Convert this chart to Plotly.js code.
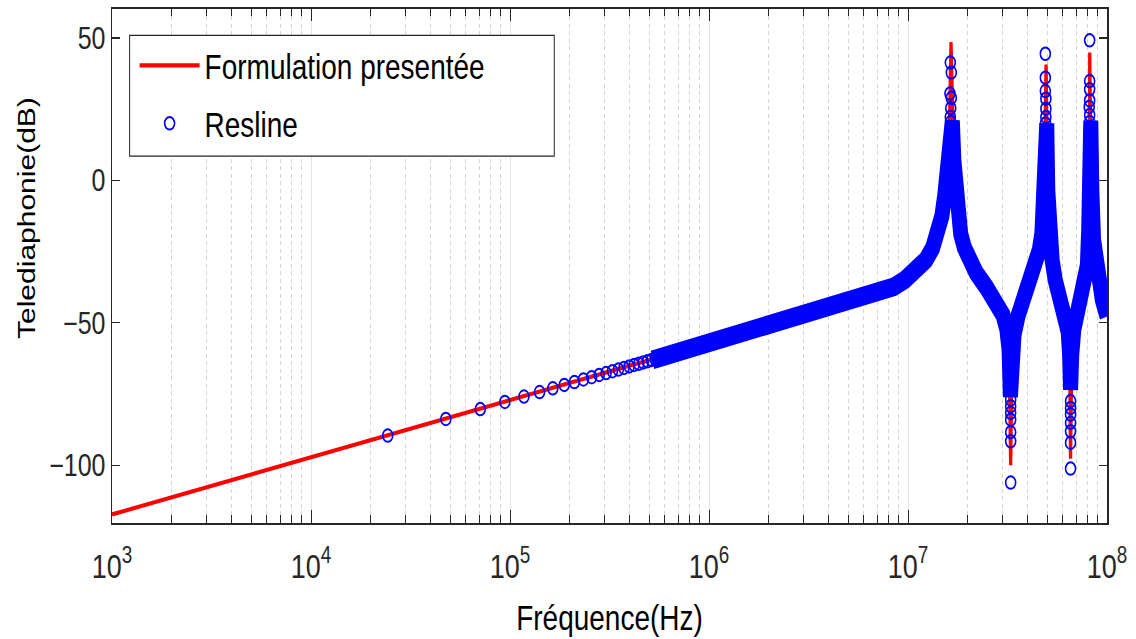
<!DOCTYPE html>
<html>
<head>
<meta charset="utf-8">
<script src="https://cdn.plot.ly/plotly-3.0.1.min.js"></script>
<style>
html,body{margin:0;padding:0;background:#fff;overflow:hidden;}
#wrap{width:1136px;height:639px;overflow:hidden;}
#chart{width:1136px;height:511px;transform:scaleY(1.2505);transform-origin:0 0;}
</style>
</head>
<body>
<div id="wrap"><div id="chart"></div></div>
<script>
// ---- Formulation presentée (red curve) ----
const redF = [1e3, 1e4, 1e5, 3e5, 6e5, 1e6, 1.5e6, 2e6, 3e6, 4e6, 5e6, 6e6, 7.26e6, 8.47e6, 9.65e6, 1.09e7, 1.23e7, 1.33e7, 1.41e7, 1.48e7, 1.53e7, 1.57e7, 1.61e7, 1.645e7, 1.70e7, 1.74e7, 1.79e7, 1.88e7, 2.01e7, 2.20e7, 2.47e7, 2.77e7, 3.00e7, 3.14e7, 3.22e7, 3.28e7, 3.33e7, 3.41e7, 3.57e7, 3.83e7, 4.11e7, 4.36e7, 4.57e7, 4.71e7, 4.79e7, 4.85e7, 4.94e7, 5.04e7, 5.12e7, 5.30e7, 5.49e7, 5.81e7, 6.16e7, 6.38e7, 6.49e7, 6.56e7, 6.65e7, 6.81e7, 7.09e7, 7.43e7, 7.74e7, 7.97e7, 8.09e7, 8.15e7, 8.19e7, 8.29e7, 8.39e7, 8.56e7, 8.76e7, 9.11e7, 9.48e7, 9.84e7, 1e8];
const redDb = [-117.3, -97.3, -77.3, -67.7, -61.7, -57.3, -53.8, -51.2, -47.6, -45.0, -43.0, -41.8, -39.8, -37.4, -34.9, -32.1, -27.9, -23.7, -19.2, -13.2, -5.2, 3.6, 14.1, 48.6, 7.1, -5.2, -13.9, -20.9, -27.2, -32.4, -37.4, -41.9, -47.2, -52.4, -59.4, -100.0, -63.0, -54.2, -47.6, -41.9, -36.0, -30.7, -24.4, -18.4, -10.4, 0.1, 40.7, -3.4, -15.6, -27.9, -34.9, -41.2, -47.2, -53.1, -61.2, -97.7, -61.2, -52.4, -47.2, -41.2, -36.0, -29.7, -17.4, 0.1, 44.9, 8.0, -3.4, -20.9, -29.0, -36.5, -42.0, -46.0, -47.8];

// ---- Resline: individually visible circles ----
const resF = [1e3, 24300, 47600, 70900, 94200, 117500, 140800, 164100, 187400, 210700, 234000, 257300, 280600, 303900, 327200, 350500, 373800, 397100, 420400, 443700, 467000, 490300, 513600, 536900, 560200,
  1.632e7, 1.651e7, 1.625e7, 1.651e7, 1.640e7, 1.632e7, 1.640e7,
  4.90e7, 4.90e7, 4.90e7, 4.93e7, 4.93e7, 4.93e7, 4.91e7,
  8.18e7, 8.18e7, 8.18e7, 8.18e7, 8.14e7, 8.18e7, 8.18e7,
  3.28e7, 3.28e7, 3.28e7, 3.28e7, 3.28e7, 3.28e7, 3.28e7,
  6.56e7, 6.56e7, 6.56e7, 6.56e7, 6.56e7, 6.56e7, 6.56e7];
const resDb = [-117.3, -89.6, -83.75, -80.3, -77.8, -75.9, -74.3, -73.0, -71.8, -70.8, -69.9, -69.1, -68.3, -67.65, -67.0, -66.4, -65.85, -65.3, -64.8, -64.4, -63.9, -63.5, -63.1, -62.7, -62.3,
  41.4, 37.9, 30.5, 29.0, 25.4, 22.3, 20.5,
  44.5, 36.1, 31.4, 28.7, 25.2, 22.3, 20.0,
  49.2, 34.9, 32.0, 28.1, 25.8, 23.0, 20.5,
  -106.1, -91.6, -88.4, -84.0, -81.6, -79.3, -77.0,
  -101.2, -92.1, -88.1, -85.1, -82.2, -79.9, -77.5];

// ---- Resline: dense part (circles overlap into a solid band) ----
const bandF = [5.2e5, 6e5, 8e5, 1e6, 1.5e6, 2e6, 3e6, 4e6, 5e6, 6e6, 7.26e6, 8.47e6, 9.65e6, 1.09e7, 1.23e7, 1.33e7, 1.38e7, 1.43e7, 1.48e7, 1.53e7, 1.57e7, 1.61e7, 1.63e7, 1.67e7, 1.70e7, 1.74e7, 1.79e7, 1.84e7, 1.92e7, 2.01e7, 2.20e7, 2.47e7, 2.77e7, 3.00e7, 3.14e7, 3.22e7, 3.27e7, 3.33e7, 3.41e7, 3.57e7, 3.83e7, 4.11e7, 4.36e7, 4.57e7, 4.71e7, 4.79e7, 4.85e7, 4.90e7, 4.98e7, 5.04e7, 5.12e7, 5.30e7, 5.49e7, 5.81e7, 6.16e7, 6.38e7, 6.49e7, 6.56e7, 6.65e7, 6.81e7, 7.09e7, 7.43e7, 7.74e7, 7.97e7, 8.09e7, 8.15e7, 8.18e7, 8.29e7, 8.39e7, 8.56e7, 8.76e7, 9.11e7, 9.48e7, 9.84e7, 1e8];
const bandDb = [-63.0, -61.7, -59.2, -57.3, -53.8, -51.2, -47.6, -45.0, -43.0, -41.8, -39.8, -37.4, -34.9, -32.1, -27.9, -23.7, -20.8, -17.0, -12.5, -5.2, 3.6, 14.1, 21.0, 21.0, 7.1, -5.2, -13.9, -18.8, -23.6, -27.2, -32.4, -37.4, -41.9, -47.2, -52.4, -59.4, -76.0, -63.0, -54.2, -47.6, -41.9, -36.0, -30.7, -24.4, -18.4, -10.4, 0.1, 20.0, 20.0, -3.4, -15.6, -27.9, -34.9, -41.2, -47.2, -53.1, -61.2, -73.5, -61.2, -52.4, -47.2, -41.2, -36.0, -29.7, -17.4, 0.1, 21.0, 21.0, -3.4, -20.9, -29.0, -36.5, -42.0, -46.0, -47.8];

// ---- axis ticks ----
const xTickVals = [1e3, 1e4, 1e5, 1e6, 1e7, 1e8];
const xTickText = ['10<sup>3</sup>', '10<sup>4</sup>', '10<sup>5</sup>', '10<sup>6</sup>', '10<sup>7</sup>', '10<sup>8</sup>'];
const yTickVals = [-100, -50, 0, 50];
const yTickText = ['\u2212100', '\u221250', '0', '50'];

const SANS = 'Liberation Sans, Arial, sans-serif';
const AX = '#262626';

const traces = [
  {x: redF, y: redDb, type: 'scatter', mode: 'lines', name: 'Formulation presentée',
   line: {color: '#ff0000', width: 3.3}, legendgroup: 'a'},
  {x: bandF, y: bandDb, type: 'scatter', mode: 'lines', name: 'Resline', showlegend: false,
   line: {color: '#0000ff', width: 15}, legendgroup: 'b', cliponaxis: false},
  {x: resF, y: resDb, type: 'scatter', mode: 'markers', name: 'Resline', legendgroup: 'b',
   marker: {symbol: 'circle-open', size: 10, color: '#0000ff', line: {width: 1.6, color: '#0000ff'}}, cliponaxis: false}
];

const layout = {
  width: 1136, height: 511,
  margin: {l: 112, r: 29, t: 7, b: 93},
  paper_bgcolor: '#ffffff', plot_bgcolor: '#ffffff',
  showlegend: true,
  legend: {x: 0.0227, y: 0.950, xanchor: 'left', yanchor: 'top', bgcolor: 'rgba(0,0,0,0)',
    borderwidth: 0, font: {family: SANS, size: 28, color: '#000'}, traceorder: 'grouped',
    tracegroupgap: 7, itemwidth: 60},
  xaxis: {type: 'log', range: [3, 8], tickvals: xTickVals, ticktext: xTickText,
    ticks: 'inside', ticklen: 10, tickwidth: 1, tickcolor: AX,
    showline: true, linecolor: AX, linewidth: 1.5, mirror: 'ticks',
    showgrid: true, gridcolor: '#e3e3e3', gridwidth: 1, zeroline: false,
    tickfont: {family: SANS, size: 27, color: AX}, ticklabelstandoff: 10,
    minor: {ticks: 'inside', ticklen: 6, tickcolor: AX, showgrid: true, gridcolor: '#d4d4d4', griddash: 'dot', dtick: 'D1'},
    title: {text: 'Fréquence(Hz)', font: {family: SANS, size: 28, color: '#000'}, standoff: 17}},
  yaxis: {range: [-120.2, 60.3], tickvals: yTickVals, ticktext: yTickText,
    ticks: 'inside', ticklen: 8, tickwidth: 1, tickcolor: AX,
    showline: true, linecolor: AX, linewidth: 1.5, mirror: 'ticks',
    showgrid: false, zeroline: false,
    tickfont: {family: SANS, size: 25, color: AX}},
  annotations: [{text: 'Telediaphonie(dB)', xref: 'paper', yref: 'paper', x: -0.0864, y: 0.591,
    xanchor: 'center', yanchor: 'middle', textangle: -90, showarrow: false,
    font: {family: SANS, size: 24, color: '#000'}}],
  shapes: [{type: 'rect', xref: 'paper', yref: 'paper', x0: 0.0177, x1: 0.4445, y0: 0.7134, y1: 0.948,
    line: {color: AX, width: 1}, fillcolor: '#ffffff', layer: 'above'}]
};

Plotly.newPlot('chart', traces, layout, {displayModeBar: false, staticPlot: true});
</script>
</body>
</html>
